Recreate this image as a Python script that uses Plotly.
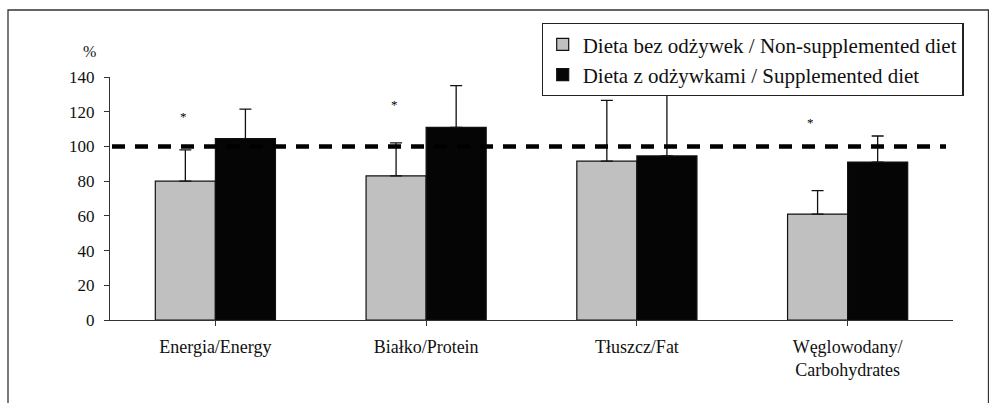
import plotly.graph_objects as go

categories = ["Energia/Energy", "Białko/Protein", "Tłuszcz/Fat", "Węglowodany/<br>Carbohydrates"]
non_supp = [80, 83, 91.5, 61]
non_supp_err = [18, 19, 35, 13.5]
supp = [104.5, 111, 94.5, 91]
supp_err = [17, 24, 50, 15]
star_values = [117, 124, None, 114]
reference_value = 100
series_names = ["Dieta bez odżywek / Non-supplemented diet", "Dieta z odżywkami / Supplemented diet"]
y_ticks = [0, 20, 40, 60, 80, 100, 120, 140]

FONT = "Times New Roman, Liberation Serif, serif"
W, H = 989, 403
ML, MR, MT, MB = 110, 36, 77, 83
PW, PH = W - ML - MR, H - MT - MB

def px_x(p):
    return (p - ML) / PW

def px_y(p):
    return (H - MB - p) / PH

BARGAP = 0.43
half = (1 - BARGAP) / 4

fig = go.Figure()
fig.add_trace(go.Bar(
    x=list(range(len(categories))), y=non_supp, name=series_names[0],
    marker=dict(color="#C0C0C0", line=dict(color="#111111", width=1.2)),
    error_y=dict(type="data", symmetric=False, array=non_supp_err,
                 arrayminus=[0] * len(non_supp), color="#111111", thickness=1.3, width=6),
))
fig.add_trace(go.Bar(
    x=list(range(len(categories))), y=supp, name=series_names[1],
    marker=dict(color="#050505", line=dict(color="#111111", width=1.2)),
    error_y=dict(type="data", symmetric=False, array=supp_err,
                 arrayminus=[0] * len(supp), color="#111111", thickness=1.3, width=6),
))

# reference line at 100 %
fig.add_shape(type="line", xref="paper", yref="y", x0=px_x(112), x1=px_x(946),
              y0=reference_value, y1=reference_value,
              line=dict(color="black", width=4.5, dash="13px,10px"), layer="above")

# outer frame
fig.add_shape(type="rect", xref="paper", yref="paper", x0=px_x(8), x1=px_x(988.5),
              y0=px_y(420), y1=px_y(10), line=dict(color="#333333", width=1.3), layer="above")

annotations = []
for i, s in enumerate(star_values):
    if s is None:
        continue
    annotations.append(dict(x=i - half, y=s, text="*", showarrow=False, xref="x", yref="y",
                            font=dict(family=FONT, size=13, color="#000000"),
                            xshift=-7 if i == 3 else -2))
annotations.append(dict(x=px_x(89.5), y=px_y(52), xref="paper", yref="paper", text="%",
                        xanchor="center", yanchor="middle",
                        showarrow=False, font=dict(family=FONT, size=16, color="#111")))

fig.update_layout(
    width=W, height=H,
    margin=dict(l=ML, r=MR, t=MT, b=MB, pad=0),
    paper_bgcolor="white", plot_bgcolor="white",
    barmode="group", bargap=BARGAP, bargroupgap=0,
    font=dict(family=FONT, color="#111"),
    showlegend=True,
    legend=dict(x=px_x(963.5), xanchor="right", y=px_y(23), yanchor="top",
                bgcolor="white", bordercolor="#222", borderwidth=1.2,
                font=dict(family=FONT, size=21, color="#111"),
                traceorder="normal"),
    annotations=annotations,
    xaxis=dict(tickmode="array", tickvals=list(range(len(categories))), ticktext=categories,
               range=[-0.5, len(categories) - 0.5],
               showline=True, linecolor="#333", linewidth=1.3, ticks="outside",
               tickson="boundaries", ticklen=5, tickcolor="#333", tickwidth=1.2,
               showgrid=False, zeroline=False,
               tickfont=dict(family=FONT, size=18, color="#111"), ticklabelstandoff=5),
    yaxis=dict(range=[0, 140], tickvals=y_ticks, showline=True, linecolor="#333",
               linewidth=1.3, ticks="outside", ticklen=5, tickcolor="#333", tickwidth=1.2,
               showgrid=False, zeroline=False,
               tickfont=dict(family=FONT, size=17, color="#111"), ticklabelstandoff=6),
)

fig.write_html("out.html", config={"displayModeBar": False},
               post_script="document.body.style.margin='0';document.body.style.overflow='hidden';")
